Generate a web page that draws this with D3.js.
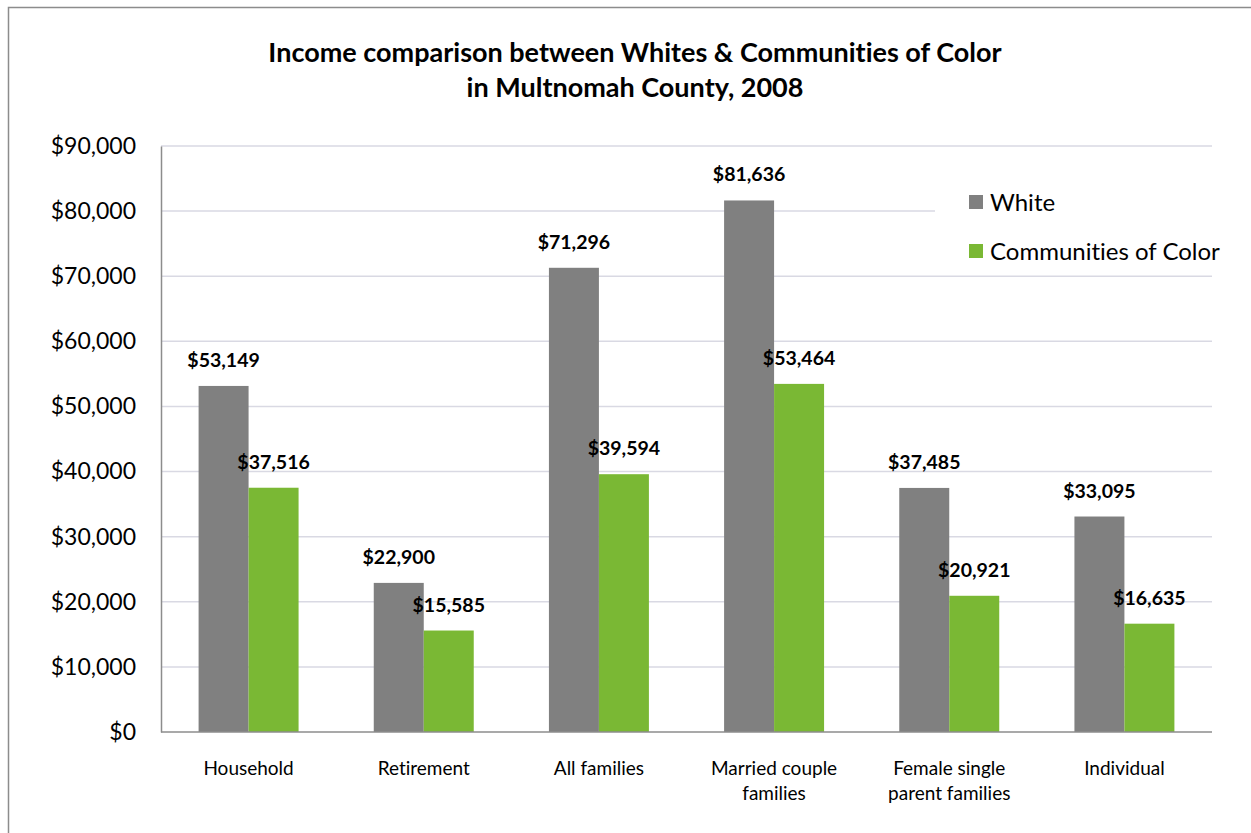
<!DOCTYPE html>
<html>
<head>
<meta charset="utf-8">
<script src="https://cdn.jsdelivr.net/npm/d3@7"></script>
<style>
  body { margin: 0; background: #fff; }
  svg { display: block; font-family: Lato, "Open Sans", sans-serif; font-variant-ligatures: none; }
</style>
</head>
<body>
<script>
// chart data
const categories = [["Household"], ["Retirement"], ["All families"], ["Married couple", "families"], ["Female single", "parent families"], ["Individual"]];
const seriesNames = ["White", "Communities of Color"];
const whiteValues = [53149, 22900, 71296, 81636, 37485, 33095];
const colorValues = [37516, 15585, 39594, 53464, 20921, 16635];
const yTicks = [0, 10000, 20000, 30000, 40000, 50000, 60000, 70000, 80000, 90000];
const titleLines = ["Income comparison between Whites & Communities of Color", "in Multnomah County, 2008"];

const width = 1251, height = 833;
const margin = { top: 146, right: 39, bottom: 101, left: 161 };
const colors = { "White": "#808080", "Communities of Color": "#7ab834" };

const svg = d3.select("body").append("svg")
  .attr("width", width)
  .attr("height", height);

// outer chart border
svg.append("rect")
  .attr("x", 8.5).attr("y", 7.5)
  .attr("width", 1300).attr("height", 900)
  .attr("fill", "#fff")
  .attr("stroke", "#8c8c8c")
  .attr("stroke-width", 1.5);

// title
svg.append("text")
  .attr("text-anchor", "middle")
  .attr("font-weight", "bold")
  .attr("font-size", 27)
  .selectAll("tspan")
  .data(titleLines)
  .join("tspan")
  .attr("x", 635)
  .attr("y", (d, i) => 62 + i * 35)
  .text(d => d);

const data = categories.map((c, i) => ({
  key: i,
  label: c,
  values: [
    { series: "White", value: whiteValues[i] },
    { series: "Communities of Color", value: colorValues[i] }
  ]
}));

const x0 = d3.scaleBand()
  .domain(data.map(d => d.key))
  .range([margin.left, width - margin.right])
  .padding(0);

const x1 = d3.scaleBand()
  .domain(seriesNames)
  .range([0, x0.bandwidth()])
  .paddingInner(0)
  .paddingOuter(0.752);

const y = d3.scaleLinear()
  .domain([0, 90000])
  .range([height - margin.bottom, margin.top]);

// gridlines
svg.append("g")
  .selectAll("line")
  .data(yTicks.filter(t => t > 0))
  .join("line")
  .attr("x1", margin.left)
  .attr("x2", width - margin.right)
  .attr("y1", d => y(d))
  .attr("y2", d => y(d))
  .attr("stroke", "#d9d9e3")
  .attr("stroke-width", 1.5);

// y axis labels
const yAxis = svg.append("g")
  .attr("transform", `translate(${margin.left},0)`)
  .call(d3.axisLeft(y).tickValues(yTicks).tickSize(0).tickPadding(25)
    .tickFormat(d => "$" + d3.format(",")(d)));
yAxis.select(".domain").attr("stroke", "#8c8c8c").attr("stroke-width", 1.5);
yAxis.selectAll("text")
  .attr("font-size", 23)
  .attr("font-family", "Lato, sans-serif")
  .attr("fill", "#000");

// legend background covers gridlines
svg.append("rect")
  .attr("x", 935).attr("y", 160)
  .attr("width", 305).attr("height", 105)
  .attr("fill", "#fff");

// bars
const groups = svg.append("g")
  .selectAll("g")
  .data(data)
  .join("g")
  .attr("transform", d => `translate(${x0(d.key)},0)`);

groups.selectAll("rect")
  .data(d => d.values)
  .join("rect")
  .attr("x", d => x1(d.series))
  .attr("y", d => y(d.value))
  .attr("width", x1.bandwidth())
  .attr("height", d => y(0) - y(d.value))
  .attr("fill", d => colors[d.series]);

groups.selectAll("text.val")
  .data(d => d.values)
  .join("text")
  .attr("class", "val")
  .attr("x", d => x1(d.series) + x1.bandwidth() / 2)
  .attr("y", d => y(d.value) - 19)
  .attr("text-anchor", "middle")
  .attr("font-size", 19.5)
  .attr("font-weight", "bold")
  .text(d => "$" + d3.format(",")(d.value));

// x axis baseline
svg.append("line")
  .attr("x1", margin.left)
  .attr("x2", width - margin.right)
  .attr("y1", y(0))
  .attr("y2", y(0))
  .attr("stroke", "#8c8c8c")
  .attr("stroke-width", 1.5);

// category labels
svg.append("g")
  .selectAll("text")
  .data(data)
  .join("text")
  .attr("text-anchor", "middle")
  .attr("font-size", 19)
  .each(function(d) {
    d3.select(this).selectAll("tspan")
      .data(d.label)
      .join("tspan")
      .attr("x", x0(d.key) + x0.bandwidth() / 2)
      .attr("y", (l, i) => y(0) + 43 + i * 25)
      .text(l => l);
  });

// legend
const legend = svg.append("g")
  .selectAll("g")
  .data(seriesNames)
  .join("g")
  .attr("transform", (d, i) => `translate(969,${195 + i * 49})`);

legend.append("rect")
  .attr("width", 14).attr("height", 14)
  .attr("fill", d => colors[d]);

legend.append("text")
  .attr("x", 21)
  .attr("y", 15.5)
  .attr("font-size", 24)
  .text(d => d);
</script>
</body>
</html>
